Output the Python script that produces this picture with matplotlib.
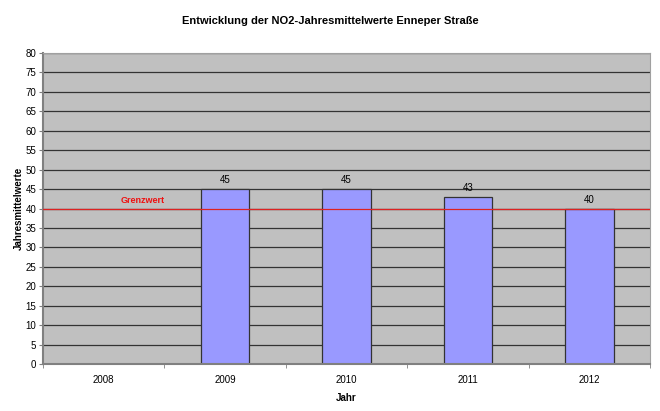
import matplotlib
matplotlib.use("Agg")
import matplotlib.pyplot as plt
import numpy as np

plt.rcParams['font.family'] = ['Liberation Sans', 'DejaVu Sans']

years = ["2008", "2009", "2010", "2011", "2012"]
values = [np.nan, 45, 45, 43, 40]
grenzwert = 40
yticks = list(range(0, 85, 5))

fig = plt.figure(figsize=(6.6, 4.11), dpi=100)
ax = fig.add_axes([0.0652, 0.1144, 0.9198, 0.7566])
ax.set_facecolor('#C0C0C0')

x = np.arange(len(years))
for yt in yticks[1:]:
    ax.axhline(yt, color='#333333', lw=0.9, zorder=1)
bars = ax.bar(x, values, width=0.4, color='#9999FF', edgecolor='#333333', lw=0.9, zorder=2)
for xi, v in zip(x, values):
    if not np.isnan(v):
        ax.text(xi, v + 1.0, f"{v:g}", ha='center', va='bottom', fontsize=7, color='black', zorder=4)

ax.axhline(grenzwert, color='#DD2222', lw=0.9, zorder=3)
ax.text(0.32, grenzwert + 1.0, "Grenzwert", color='#EE1111', fontsize=6.5, fontweight='bold',
        ha='center', va='bottom', zorder=4)

ax.set_xlim(-0.5, len(years) - 0.5)
ax.set_ylim(0, 80)
ax.set_yticks(yticks)
ax.set_yticklabels([str(t) for t in yticks], fontsize=7)
ax.set_xticks(x)
ax.set_xticklabels(years, fontsize=7)
ax.tick_params(axis='x', length=0, pad=8)
ax.set_xticks(np.arange(-0.5, len(years)), minor=True)
ax.tick_params(axis='x', which='minor', length=3, color='#808080')
ax.tick_params(axis='y', length=3, color='#808080', pad=2)

for s in ['left', 'bottom']:
    ax.spines[s].set_color('#808080')
    ax.spines[s].set_linewidth(1.5)
for s in ['top', 'right']:
    ax.spines[s].set_color('#A0A0A0')
    ax.spines[s].set_linewidth(0.8)

ax.set_xlabel("Jahr", fontsize=7, fontweight='bold', labelpad=6)
ax.set_ylabel("Jahresmittelwerte", fontsize=7, fontweight='bold', labelpad=1)
fig.text(0.5, 0.95, "Entwicklung der NO2-Jahresmittelwerte Enneper Straße", ha='center', va='center',
         fontsize=8, fontweight='bold')

fig.savefig("out.png", dpi=100)
